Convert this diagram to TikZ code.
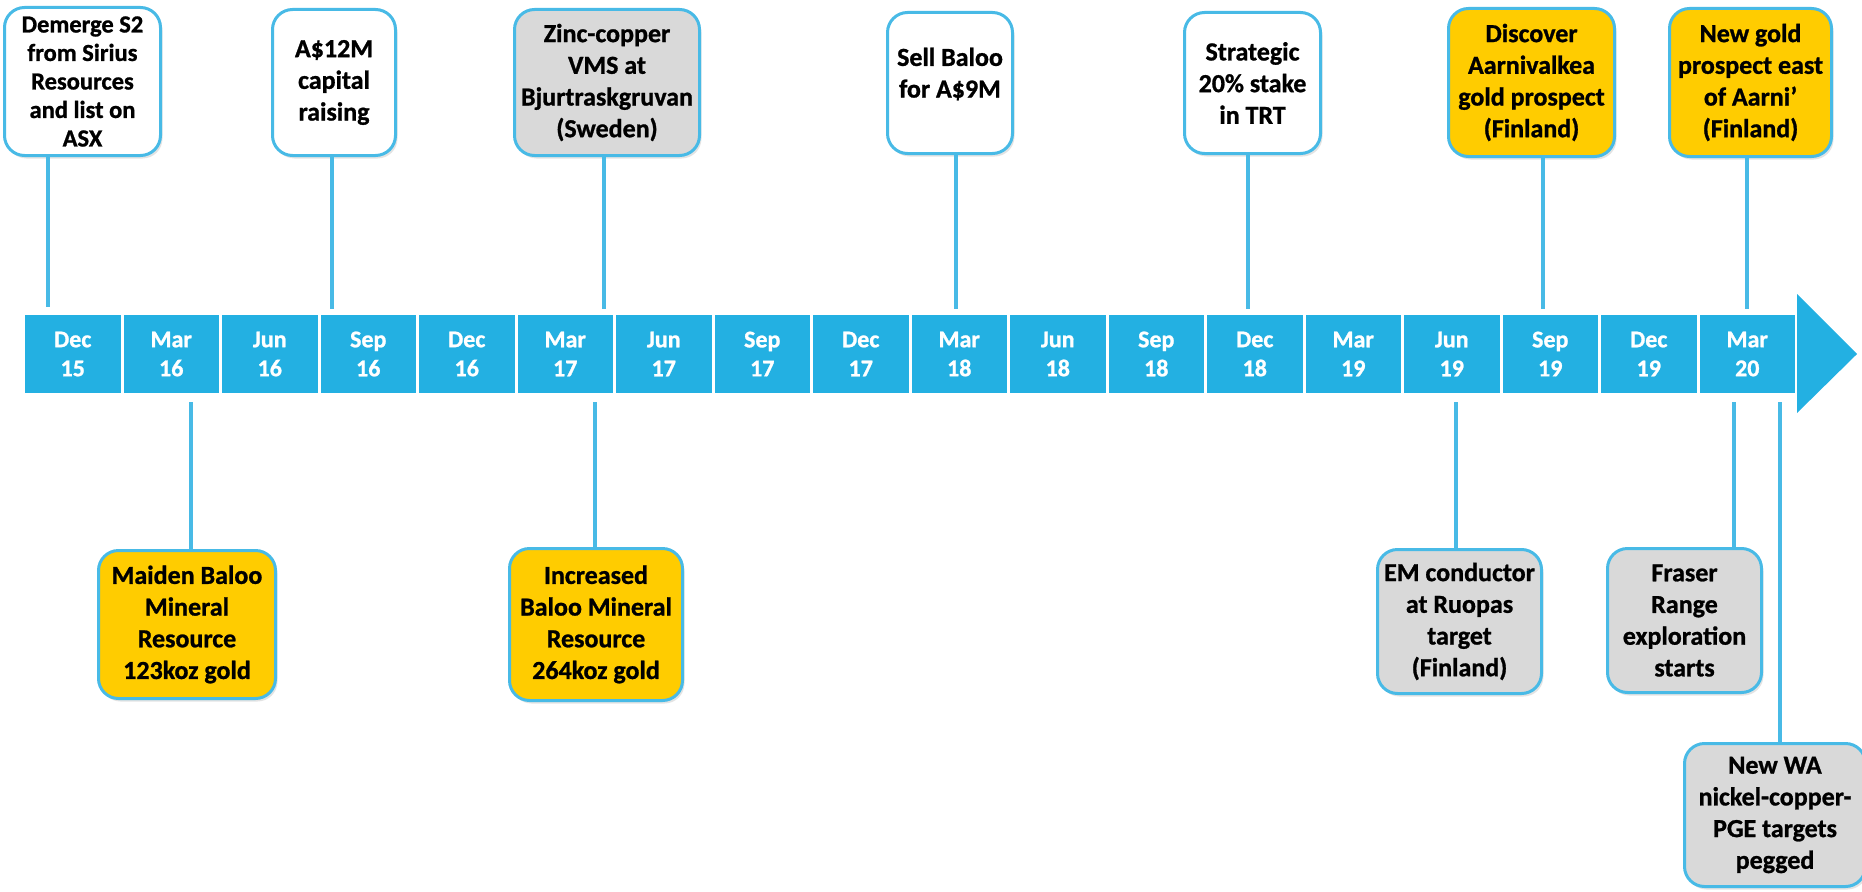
\documentclass[tikz,border=0pt]{standalone}
\usepackage{fontspec}
\setmainfont{Carlito}[BoldFeatures={FakeBold=1}]
\usetikzlibrary{shadows}
\definecolor{barblue}{RGB}{35,176,226}
\definecolor{edgeblue}{RGB}{72,186,230}
\definecolor{boxyellow}{RGB}{255,204,0}
\definecolor{boxgrey}{RGB}{217,217,217}
\begin{document}
\begin{tikzpicture}[x=1pt,y=-1pt,
  evbox/.style={draw=edgeblue, line width=3pt, rounded corners=20pt, align=center, inner sep=1pt,
    font=\fontsize{26}{31.7}\selectfont\bfseries,
    drop shadow={opacity=0.22, shadow xshift=2pt, shadow yshift=-3pt}},
  wbox/.style={evbox, fill=white},
  ybox/.style={evbox, fill=boxyellow},
  gbox/.style={evbox, fill=boxgrey},
  bsz/.style 2 args={minimum width=#1pt, minimum height=#2pt},
  smalltxt/.style={font=\fontsize{24.5}{28.5}\selectfont\bfseries},
  cell/.style={fill=barblue, minimum width=95.5pt, minimum height=78pt, inner sep=0pt, align=center,
    text=white, font=\fontsize{24}{29}\selectfont\bfseries},
  stem/.style={draw=edgeblue, line width=3.5pt},
  txtonly/.style={align=center, inner sep=0pt, font=\fontsize{26}{31.7}\selectfont\bfseries}
]
\useasboundingbox (0,0) rectangle (1862,891);
\clip (0,0) rectangle (1862,891);

% timeline cells
\foreach \m/\yr [count=\i from 0] in {Dec/15,Mar/16,Jun/16,Sep/16,Dec/16,Mar/17,Jun/17,Sep/17,Dec/17,Mar/18,Jun/18,Sep/18,Dec/18,Mar/19,Jun/19,Sep/19,Dec/19,Mar/20}
  \node[cell] (c\i) at ({72.75+\i*98.5},354) {\m\\\yr};
% arrow head
\fill[barblue] (1797,294) -- (1857,354) -- (1797,413) -- cycle;

% top boxes
\node[wbox, smalltxt, bsz={156}{148}] (dem) at (82.5,81.5) {Demerge S2\\from Sirius\\Resources\\and list on\\ASX};
\node[wbox, bsz={123}{146}] (cap) at (334,82.5) {A\$12M\\capital\\raising};
\node[gbox, bsz={185}{146}] (zinc) at (607,82.5) {Zinc-copper\\VMS at\\Bjurtraskgruvan\\(Sweden)};
\node[wbox, bsz={125}{141}] (sell) at (950,83) {};
\node[txtonly] (sellt) at (950,74) {Sell Baloo\\for A\$9M};
\node[wbox, bsz={136}{141}] (strat) at (1252.5,83) {Strategic\\20\% stake\\in TRT};
\node[ybox, bsz={166}{148}] (disc) at (1531.5,82.5) {Discover\\Aarnivalkea\\gold prospect\\(Finland)};
\node[ybox, bsz={162}{148}] (ngold) at (1750.5,82.5) {New gold\\prospect east\\of Aarni’\\(Finland)};

% bottom boxes
\node[ybox, bsz={177}{148}] (maiden) at (187,624.5) {Maiden Baloo\\Mineral\\Resource\\123koz gold};
\node[ybox, bsz={173}{152}] (incr) at (596,624.5) {Increased\\Baloo Mineral\\Resource\\264koz gold};
\node[gbox, bsz={164}{144}] (em) at (1459.5,621.5) {EM conductor\\at Ruopas\\target\\(Finland)};
\node[gbox, bsz={154}{144}] (fraser) at (1684.5,620.5) {Fraser\\Range\\exploration\\starts};
\node[gbox, bsz={181}{143}] (newwa) at (1775,815) {New WA\\nickel-copper-\\PGE targets\\pegged};

% stem end points near the bar
\coordinate (t1) at (48,307);
\coordinate (t2) at (332,309);
\coordinate (t3) at (604,309);
\coordinate (t4) at (956,309);
\coordinate (t5) at (1248,309);
\coordinate (t6) at (1543,309);
\coordinate (t7) at (1747,309);
\coordinate (b1) at (191,402);
\coordinate (b2) at (595,402);
\coordinate (b3) at (1456,402);
\coordinate (b4) at (1734,402);
\coordinate (b5) at (1780,402);

% stems
\draw[stem] (dem.south -| t1) -- (t1);
\draw[stem] (cap.south -| t2) -- (t2);
\draw[stem] (zinc.south -| t3) -- (t3);
\draw[stem] (sell.south -| t4) -- (t4);
\draw[stem] (strat.south -| t5) -- (t5);
\draw[stem] (disc.south -| t6) -- (t6);
\draw[stem] (ngold.south -| t7) -- (t7);
\draw[stem] (b1) -- (maiden.north -| b1);
\draw[stem] (b2) -- (incr.north -| b2);
\draw[stem] (b3) -- (em.north -| b3);
\draw[stem] (b4) -- (fraser.north -| b4);
\draw[stem] (b5) -- (newwa.north -| b5);
\end{tikzpicture}
\end{document}
